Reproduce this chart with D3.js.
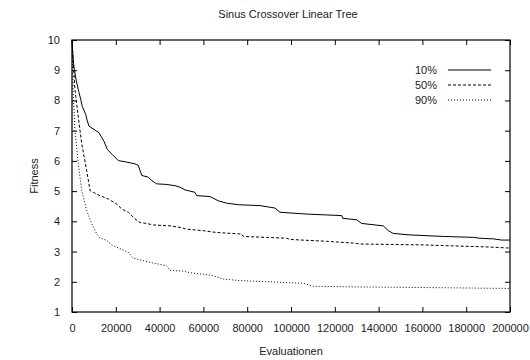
<!DOCTYPE html>
<html>
<head>
<meta charset="utf-8">
<script src="https://cdn.jsdelivr.net/npm/d3@7"></script>
<style>
  html, body { margin: 0; padding: 0; background: #fff; }
  svg text { font-family: "Liberation Sans", Arial, Helvetica, sans-serif; fill: #222; }
</style>
</head>
<body>
<svg id="chart" width="530" height="360"></svg>
<script>
// ---- data ----
const title = "Sinus Crossover Linear Tree";
const xLabel = "Evaluationen";
const yLabel = "Fitness";
const xTicks = [0, 20000, 40000, 60000, 80000, 100000, 120000, 140000, 160000, 180000, 200000];
const yTicks = [1, 2, 3, 4, 5, 6, 7, 8, 9, 10];
const seriesNames = ["10%", "50%", "90%"];

const evals10 = [0, 400, 900, 1960, 3200, 3970, 4700, 6260, 6990, 7760, 10050, 12330, 14610, 16120, 18400, 21140, 24980, 28770, 30270, 31830, 34840, 36390, 38680, 43240, 47030, 49320, 51600, 56160, 56940, 63010, 66800, 70640, 75940, 85850, 92690, 94980, 107170, 123150, 123610, 130000, 132280, 142150, 144430, 146710, 154320, 169540, 183240, 186300, 192370, 196210, 200000];
const fit10 = [10, 9.5, 9.1, 8.65, 8.26, 8.04, 7.8, 7.54, 7.32, 7.15, 7.04, 6.93, 6.65, 6.38, 6.21, 6.01, 5.96, 5.9, 5.85, 5.52, 5.46, 5.35, 5.24, 5.22, 5.18, 5.13, 5.04, 4.96, 4.85, 4.82, 4.68, 4.6, 4.55, 4.52, 4.44, 4.3, 4.24, 4.19, 4.1, 4.05, 3.93, 3.85, 3.69, 3.6, 3.55, 3.5, 3.47, 3.44, 3.42, 3.38, 3.38];

const evals50 = [0, 590, 1370, 2880, 4430, 6710, 8220, 9730, 12790, 16580, 20410, 22690, 25710, 28770, 31050, 34110, 37120, 44750, 49320, 52370, 59950, 66070, 77490, 78220, 98040, 99540, 116300, 128450, 131510, 160410, 172600, 190870, 198490, 200000];
const fit50 = [10, 9.23, 8.34, 7.45, 6.57, 5.68, 5.02, 4.96, 4.85, 4.74, 4.57, 4.41, 4.3, 4.08, 3.96, 3.93, 3.88, 3.85, 3.8, 3.74, 3.69, 3.63, 3.58, 3.5, 3.44, 3.4, 3.34, 3.28, 3.25, 3.22, 3.19, 3.15, 3.12, 3.12];

const evals90 = [0, 320, 590, 1370, 2880, 4430, 6710, 9000, 11280, 12790, 15850, 18130, 22690, 25710, 27990, 32560, 37120, 43240, 44750, 50820, 53880, 59950, 64520, 69090, 76710, 105620, 110180, 129950, 160410, 198490, 200000];
const fit90 = [10, 8.9, 8.12, 7.0, 5.91, 5.02, 4.36, 3.92, 3.59, 3.45, 3.37, 3.22, 3.07, 2.97, 2.78, 2.7, 2.62, 2.53, 2.38, 2.35, 2.3, 2.25, 2.2, 2.09, 2.04, 1.95, 1.85, 1.83, 1.81, 1.78, 1.78];

// ---- layout ----
const svg = d3.select("#chart");
const mLeft = 72, mRight = 510, mTop = 40, mBottom = 312;
const x = d3.scaleLinear().domain([0, 200000]).range([mLeft, mRight]);
const y = d3.scaleLinear().domain([1, 10]).range([mBottom, mTop]);
const dashes = [null, "3,2", "1,2"];

const series = [
  evals10.map((e, i) => [e, fit10[i]]),
  evals50.map((e, i) => [e, fit50[i]]),
  evals90.map((e, i) => [e, fit90[i]])
];

// axes with inward ticks on all four sides
const tl = 5;
const axB = svg.append("g").attr("transform", `translate(0,${mBottom})`)
  .call(d3.axisBottom(x).tickValues(xTicks).tickSizeInner(-tl).tickSizeOuter(0).tickPadding(12).tickFormat(d3.format("d")));
const axT = svg.append("g").attr("transform", `translate(0,${mTop})`)
  .call(d3.axisTop(x).tickValues(xTicks).tickSizeInner(-tl).tickSizeOuter(0).tickFormat(""));
const axL = svg.append("g").attr("transform", `translate(${mLeft},0)`)
  .call(d3.axisLeft(y).tickValues(yTicks).tickSizeInner(-tl).tickSizeOuter(0).tickPadding(12).tickFormat(d3.format("d")));
const axR = svg.append("g").attr("transform", `translate(${mRight},0)`)
  .call(d3.axisRight(y).tickValues(yTicks).tickSizeInner(-tl).tickSizeOuter(0).tickFormat(""));
[axB, axT, axL, axR].forEach(a => {
  a.select(".domain").remove();
  a.selectAll("line").attr("stroke", "#000").attr("stroke-width", 1);
  a.selectAll("text").attr("font-size", 11).attr("fill", "#222")
    .style("font-family", '"Liberation Sans", Arial, sans-serif');
});

// border box
svg.append("rect").attr("x", mLeft).attr("y", mTop)
  .attr("width", mRight - mLeft).attr("height", mBottom - mTop)
  .attr("fill", "none").attr("stroke", "#000").attr("stroke-width", 1.2);

// lines
const line = d3.line().x(d => x(d[0])).y(d => y(d[1]));
series.forEach((s, i) => {
  svg.append("path").datum(s).attr("d", line)
    .attr("fill", "none").attr("stroke", "#000").attr("stroke-width", 1)
    .attr("stroke-dasharray", dashes[i]);
});

// legend
const lg = svg.append("g");
seriesNames.forEach((n, i) => {
  const ly = 70 + i * 15;
  lg.append("text").attr("x", 437).attr("y", ly + 4).attr("text-anchor", "end")
    .attr("font-size", 11).text(n);
  lg.append("line").attr("x1", 448).attr("x2", 491).attr("y1", ly).attr("y2", ly)
    .attr("stroke", "#000").attr("stroke-width", 1).attr("stroke-dasharray", dashes[i]);
});

// titles
svg.append("text").attr("x", (mLeft + mRight) / 2 - 3).attr("y", 18)
  .attr("text-anchor", "middle").attr("font-size", 11).text(title);
svg.append("text").attr("x", (mLeft + mRight) / 2).attr("y", 355)
  .attr("text-anchor", "middle").attr("font-size", 11).text(xLabel);
svg.append("text").attr("transform", `translate(38,${(mTop + mBottom) / 2}) rotate(-90)`)
  .attr("text-anchor", "middle").attr("font-size", 11).text(yLabel);
</script>
</body>
</html>
